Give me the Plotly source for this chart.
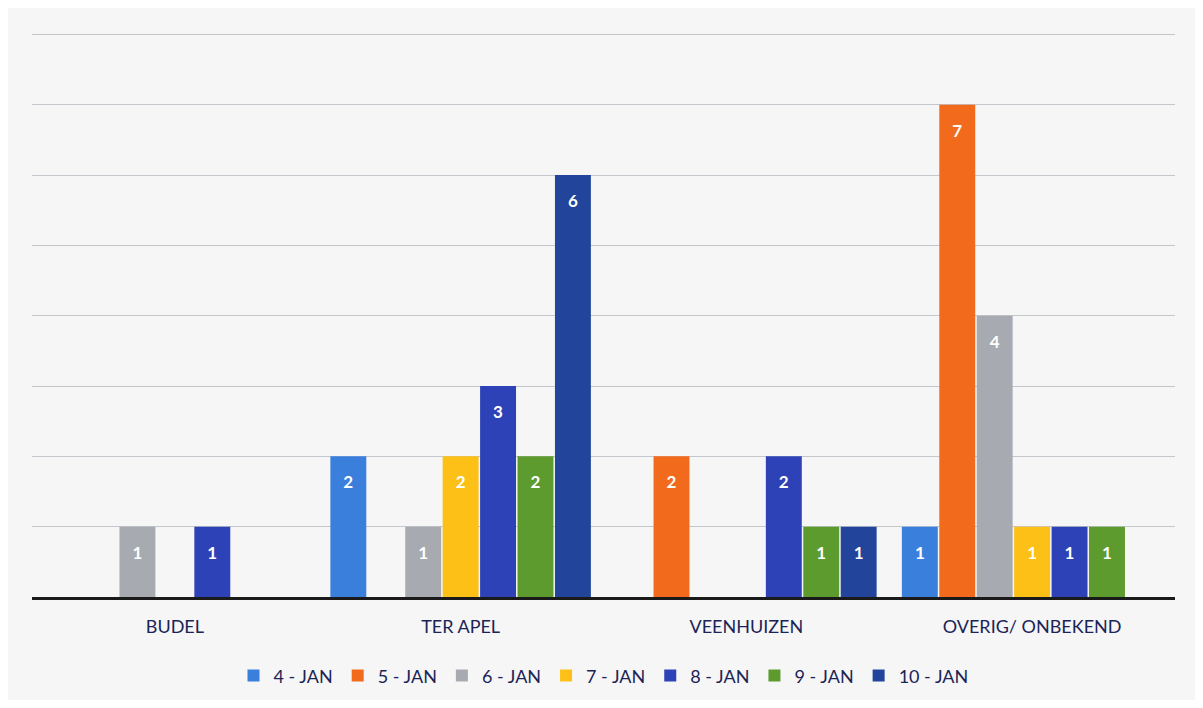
import plotly.graph_objects as go

# locations (x-axis categories)
locations = ["BUDEL", "TER APEL", "VEENHUIZEN", "OVERIG/ ONBEKEND"]

# one series per day; None = no bar
dates = ["4 - JAN", "5 - JAN", "6 - JAN", "7 - JAN", "8 - JAN", "9 - JAN", "10 - JAN"]
jan_4 = [None, 2, None, 1]
jan_5 = [None, None, 2, 7]
jan_6 = [1, 1, None, 4]
jan_7 = [None, 2, None, 1]
jan_8 = [1, 3, 2, 1]
jan_9 = [None, 2, 1, 1]
jan_10 = [None, 6, 1, None]

series = [jan_4, jan_5, jan_6, jan_7, jan_8, jan_9, jan_10]
colors = ["#3b7fdd", "#f26b1d", "#a7abb1", "#fdc017", "#2d42b6", "#5d9b2f", "#22459b"]

NAVY = "#1b2456"
FONT = "Lato, 'Open Sans', sans-serif"

fig = go.Figure()
for name, vals, col in zip(dates, series, colors):
    fig.add_trace(go.Bar(
        x=locations, y=vals, name=name, marker=dict(color=col, line=dict(width=0)),
        text=[str(v) if v is not None else "" for v in vals],
        textposition="inside", insidetextanchor="end",
        textfont=dict(color="white", size=17, family=FONT),
        # small blank first line pushes the number a bit below the bar top
        texttemplate="<span style='font-size:7px'> </span><br><b>%{text}</b>",
        constraintext="none",
    ))

# page body has an 8px margin, so the figure is sized to fit inside it
fig.update_layout(
    width=1187, height=692,
    barmode="group", bargap=0.083, bargroupgap=0.04,
    paper_bgcolor="#f6f6f6", plot_bgcolor="#f6f6f6",
    margin=dict(l=24, r=20, t=25, b=103),
    font=dict(family=FONT, color=NAVY, size=18),
    showlegend=True,
    legend=dict(orientation="h", x=0.5, xanchor="center",
                yref="container", y=0.035, yanchor="middle",
                font=dict(size=18, color=NAVY), itemwidth=30,
                bgcolor="rgba(0,0,0,0)"),
)
fig.update_xaxes(showline=True, linecolor="#1a1a1a", linewidth=2.5,
                 ticks="", tickfont=dict(size=18, color=NAVY), ticklabelstandoff=12)
fig.update_yaxes(range=[0, 8.02], dtick=1, showticklabels=False, showgrid=True,
                 gridcolor="#c3c6cb", gridwidth=1, zeroline=False)

fig.write_html("out.html")
